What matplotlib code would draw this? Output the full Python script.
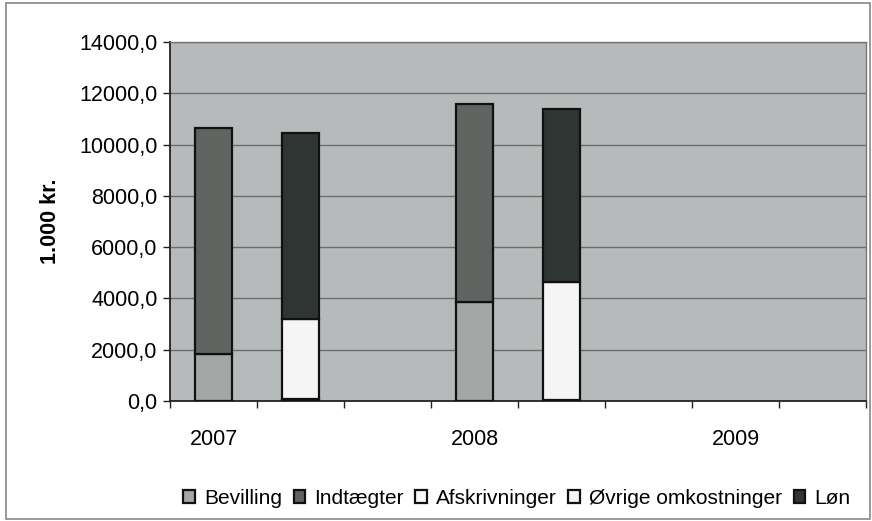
import numpy as np
import matplotlib
matplotlib.use("Agg")
import matplotlib.pyplot as plt
from matplotlib.patches import Rectangle

plt.rcParams['font.family'] = ['Liberation Sans', 'DejaVu Sans']

categories = ["2007", "", "", "2008", "", "", "2009", ""]
series_names = ["Bevilling", "Indtægter", "Afskrivninger", "Øvrige omkostninger", "Løn"]
bevilling = [1830, 0, 0, 3860, 0, 0, 0, 0]
indtaegter = [8820, 0, 0, 7720, 0, 0, 0, 0]
afskrivninger = [0, 60, 0, 0, 40, 0, 0, 0]
ovrige = [0, 3140, 0, 0, 4600, 0, 0, 0]
loen = [0, 7250, 0, 0, 6750, 0, 0, 0]
yticks = [0, 2000, 4000, 6000, 8000, 10000, 12000, 14000]

colors = ["#a3a7a6", "#5f6461", "#f8f8f8", "#f4f5f4", "#2f3532"]

fig = plt.figure(figsize=(8.72, 5.21), dpi=100)
ax = fig.add_axes([170/872, 120/521, 696/872, 359/521])
ax.set_facecolor("#b6baba")

x = np.arange(len(categories))
data = [bevilling, indtaegter, afskrivninger, ovrige, loen]
bottom = np.zeros(len(categories))
for name, vals, c in zip(series_names, data, colors):
    v = np.array(vals, dtype=float)
    mask = v > 0
    ax.bar(x[mask], v[mask], bottom=bottom[mask], width=0.42, color=c,
           edgecolor="#111111", linewidth=1.6, label=name, zorder=3)
    bottom += v

fs = 15.5
ax.set_xlim(-0.5, len(categories) - 0.5)
ax.set_ylim(0, 14000)
ax.set_yticks(yticks)
ax.set_yticklabels([f"{t:.1f}".replace(".", ",") for t in yticks], fontsize=fs)
ax.yaxis.grid(True, color="#6a6e6c", linewidth=1.0, zorder=1)
ax.set_xticks(x)
ax.set_xticklabels(categories, fontsize=fs)
ax.tick_params(axis='x', length=0, pad=20)
ax.set_xticks(np.arange(-0.5, len(categories)), minor=True)
ax.tick_params(axis='x', which='minor', length=5, width=1, color="#222222")
ax.tick_params(axis='y', length=5, width=1, color="#222222", pad=4)
for s in ["top", "right"]:
    ax.spines[s].set_color("#777777")
    ax.spines[s].set_linewidth(1)
for s in ["left", "bottom"]:
    ax.spines[s].set_color("#222222")
    ax.spines[s].set_linewidth(1.3)

ax.set_ylabel("1.000 kr.", fontsize=fs, fontweight="bold", labelpad=13)

handles, labels = ax.get_legend_handles_labels()
leg = fig.legend(handles, labels, loc="center", bbox_to_anchor=(517/872, 1 - 498/521),
                 ncol=5, frameon=False, fontsize=15, handlelength=0.55, handleheight=0.6,
                 handletextpad=0.45, columnspacing=0.55, borderaxespad=0)

fig.patches.append(Rectangle((6/872, 2/521), 864/872, 516/521, transform=fig.transFigure,
                             fill=False, edgecolor="#888888", linewidth=1.2))

fig.savefig("out.png", dpi=100)
